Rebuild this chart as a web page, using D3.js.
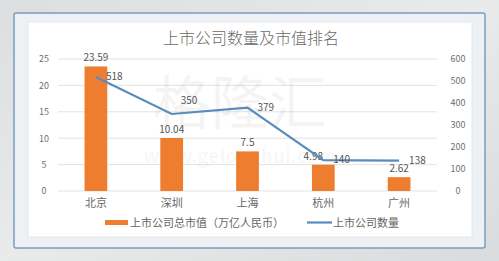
<!DOCTYPE html>
<html>
<head>
<meta charset="utf-8">
<script src="https://cdn.jsdelivr.net/npm/d3@7"></script>
<style>
body{margin:0;padding:0;overflow:hidden;}
text{font-family:"Noto Sans CJK SC","Noto Sans",sans-serif;}
</style>
</head>
<body>
<div id="graphHere"></div>
<script>
var cities = ["北京","深圳","上海","杭州","广州"];
var marketValue = [23.59,10.04,7.5,4.98,2.62];
var companyCount = [518,350,379,140,138];
var leftTicks = [0,5,10,15,20,25];
var rightTicks = [0,100,200,300,400,500,600];

var W = 499, H = 261;
var svg = d3.select("#graphHere").append("svg")
  .attr("width",W).attr("height",H);

var defs = svg.append("defs");
var bg = defs.append("linearGradient").attr("id","bg")
  .attr("x1","0").attr("y1","0").attr("x2","1").attr("y2","1");
bg.append("stop").attr("offset","0").attr("stop-color","#dcdedf");
bg.append("stop").attr("offset","0.5").attr("stop-color","#e9eaea");
bg.append("stop").attr("offset","1").attr("stop-color","#d9dbdc");
svg.append("rect").attr("width",W).attr("height",H).attr("fill","url(#bg)");

// frame
svg.append("rect").attr("x",14).attr("y",13).attr("width",471).attr("height",235)
  .attr("fill","#eef1f4").attr("stroke","#7a9cc0").attr("stroke-width",1.5).attr("rx",2);
svg.append("rect").attr("x",28).attr("y",22).attr("width",444).attr("height",215)
  .attr("fill","#ffffff").attr("stroke","#e4e6e8");

var x = d3.scaleBand().domain(cities).range([58,437]).paddingInner(0.7).paddingOuter(0.35);
var yL = d3.scaleLinear().domain([0,25]).range([191,59]);
var yR = d3.scaleLinear().domain([0,600]).range([191,59]);

// gridlines
svg.append("g").selectAll("line").data(leftTicks).enter().append("line")
  .attr("x1",58).attr("x2",437)
  .attr("y1",function(d){return yL(d)}).attr("y2",function(d){return yL(d)})
  .attr("stroke","#e3e3e3").attr("stroke-width",1);

// watermark
svg.append("text").text("格隆汇").attr("x",240).attr("y",124)
  .attr("text-anchor","middle").attr("font-size",58)
  .attr("fill","#000").attr("fill-opacity",0.045);
svg.append("text").text("www.gelonghui.com").attr("x",240).attr("y",163)
  .attr("text-anchor","middle").attr("font-size",19).attr("font-weight","bold")
  .attr("fill","#000").attr("fill-opacity",0.04);

// axes
var axL = svg.append("g").attr("transform","translate(50,0)")
  .call(d3.axisLeft(yL).tickValues(leftTicks).tickSize(0).tickPadding(0));
var axR = svg.append("g").attr("transform","translate(448,0)")
  .call(d3.axisRight(yR).tickValues(rightTicks).tickSize(0).tickPadding(0));
[axL,axR].forEach(function(a){
  a.select(".domain").remove();
  a.selectAll("text").attr("font-size",9).attr("fill","#707070")
    .attr("font-family","\"DejaVu Sans\",sans-serif");
});
axL.selectAll("text").attr("text-anchor","middle").attr("x",-6);
axR.selectAll("text").attr("text-anchor","middle").attr("x",10);

// bars
svg.append("g").selectAll("rect").data(marketValue).enter().append("rect")
  .attr("x",function(d,i){return x(cities[i])})
  .attr("width",x.bandwidth())
  .attr("y",function(d){return yL(d)})
  .attr("height",function(d){return yL(0)-yL(d)})
  .attr("fill","#ee7d2f");

svg.append("g").selectAll("text").data(marketValue).enter().append("text")
  .text(function(d){return d})
  .attr("x",function(d,i){return x(cities[i])+x.bandwidth()/2-(i==3?10:0)})
  .attr("y",function(d){return yL(d)-5})
  .attr("text-anchor","middle").attr("font-size",10).attr("fill","#555")
  .attr("font-family","\"DejaVu Sans\",sans-serif");

// line
var line = d3.line()
  .x(function(d,i){return x(cities[i])+x.bandwidth()/2})
  .y(function(d){return yR(d)});
svg.append("path").datum(companyCount).attr("d",line)
  .attr("fill","none").attr("stroke","#5a8bbd").attr("stroke-width",2.2);

svg.append("g").selectAll("text").data(companyCount).enter().append("text")
  .text(function(d){return d})
  .attr("x",function(d,i){return x(cities[i])+x.bandwidth()/2+(i==1?9:10)})
  .attr("y",function(d,i){return yR(d)+(i==1?-10:3)})
  .attr("font-size",10).attr("fill","#555")
  .attr("font-family","\"DejaVu Sans\",sans-serif");

// category labels
svg.append("g").selectAll("text").data(cities).enter().append("text")
  .text(function(d){return d})
  .attr("x",function(d){return x(d)+x.bandwidth()/2})
  .attr("y",207).attr("text-anchor","middle")
  .attr("font-size",11).attr("fill","#666");

// title
svg.append("text").text("上市公司数量及市值排名").attr("x",251).attr("y",44)
  .attr("text-anchor","middle").attr("font-size",16).attr("font-weight",300).attr("fill","#6a6a6a");

// legend
svg.append("rect").attr("x",105).attr("y",220).attr("width",23).attr("height",5).attr("fill","#ee7d2f");
svg.append("text").text("上市公司总市值（万亿人民币）").attr("x",130).attr("y",226.5)
  .attr("font-size",11).attr("fill","#666");
svg.append("line").attr("x1",307).attr("x2",332).attr("y1",222.5).attr("y2",222.5)
  .attr("stroke","#5a8bbd").attr("stroke-width",2.2);
svg.append("text").text("上市公司数量").attr("x",333).attr("y",226.5)
  .attr("font-size",11).attr("fill","#666");
</script>
</body>
</html>
